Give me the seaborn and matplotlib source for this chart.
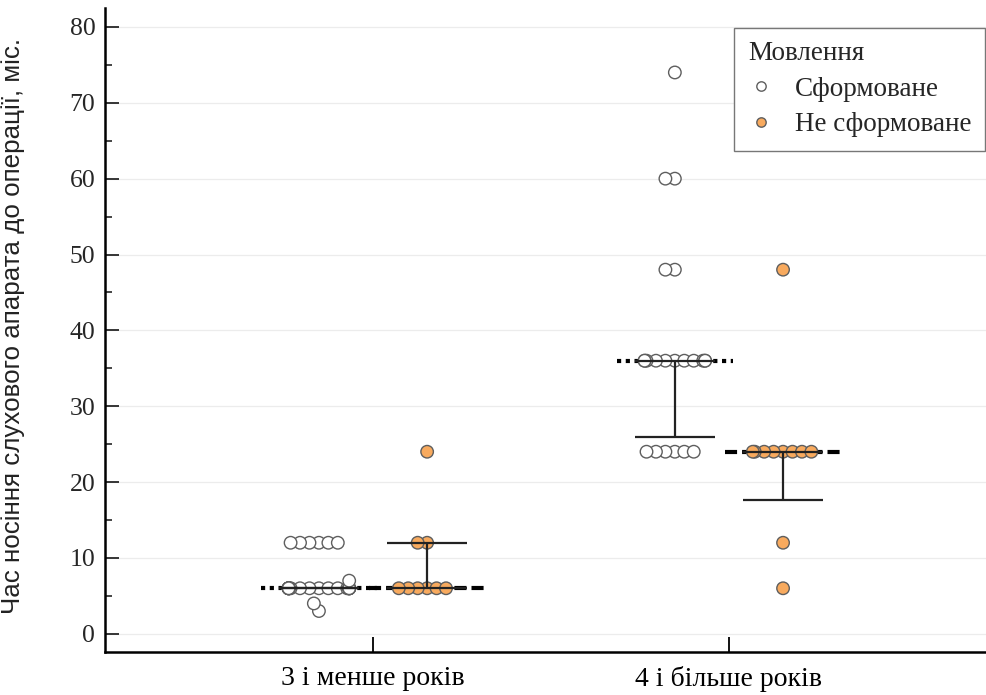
import warnings
import numpy as np
import pandas as pd
import matplotlib
matplotlib.use("Agg")
import matplotlib.pyplot as plt
import seaborn as sns
from seaborn.categorical import Beeswarm

warnings.filterwarnings("ignore")

# --- data (months of hearing aid use before surgery) ---
groups = ["3 і менше років", "4 і більше років"]
speech = ["Сформоване", "Не сформоване"]

young_formed = [3, 4, 6, 6, 6, 6, 6, 6, 6, 6, 6, 6, 6, 6, 6, 6, 6, 6, 6, 6, 6, 6,
                7, 12, 12, 12, 12, 12, 12]
young_not = [6, 6, 6, 6, 6, 6, 12, 12, 24]
old_formed = [24, 24, 24, 24, 24, 24, 36, 36, 36, 36, 36, 36, 36, 36, 36, 36, 36,
              48, 48, 60, 60, 74]
old_not = [6, 12, 24, 24, 24, 24, 24, 24, 24, 24, 48]

# median and interquartile range shown on the chart, [group][speech]
medians = [[6, 6], [36, 24]]
q1 = [[6, 6], [26, 17.7]]
q3 = [[6, 12], [36, 24]]

colors = {"Сформоване": "white", "Не сформоване": "#F8AA5E"}
offset = {"Сформоване": -0.152, "Не сформоване": 0.152}

rows = []
for g, s, vals in [(0, speech[0], young_formed), (0, speech[1], young_not),
                   (1, speech[0], old_formed), (1, speech[1], old_not)]:
    for v in vals:
        rows.append({"group": g, "Мовлення": s, "value": v})
df = pd.DataFrame(rows)
df["pos"] = df["group"] + df["Мовлення"].map(offset)

# --- plot ---
sns.set_theme(style="white")
plt.rcParams["font.family"] = ["Liberation Serif", "DejaVu Serif"]

fig = plt.figure(figsize=(9.87, 6.95), dpi=100)
ax = fig.add_axes([0.1064, 0.0619, 0.8936, 0.9266])

sns.stripplot(data=df, x="pos", y="value", hue="Мовлення", hue_order=speech,
              palette=colors, jitter=False, native_scale=True, size=9.0,
              linewidth=1.0, edgecolor="#5e5e5e", zorder=3, ax=ax)

ax.set_xlim(-0.753, 1.725)
ax.set_ylim(-2.4, 82.5)

# spread points sideways with seaborn's beeswarm (tight spacing, narrow band)
bw = Beeswarm(orient="x", width=0.17)
for pts in ax.collections:
    offs = pts.get_offsets()
    if len(offs) > 1:
        center = float(np.asarray(offs)[0, 0])
        draw_size = pts.get_sizes().copy()
        pts.set_sizes([30])
        bw(pts, center)
        pts.set_sizes(draw_size)

# median lines and IQR bars
line_style = {"Сформоване": (0, (1, 1.1)), "Не сформоване": (0, (2.9, 1.2))}
for i in range(len(groups)):
    for j, s in enumerate(speech):
        x = i + offset[s]
        ax.plot([x - 0.163, x + 0.163], [medians[i][j]] * 2, color="black",
                lw=3, linestyle=line_style[s], zorder=2, solid_capstyle="butt")
        ax.vlines(x, q1[i][j], q3[i][j], color="#222222", lw=1.6, zorder=4)
        ax.hlines([q1[i][j], q3[i][j]], x - 0.112, x + 0.112, color="#222222",
                  lw=1.6, zorder=4)

# axes styling
ax.set_xticks([0, 1], groups)
ax.set_yticks(np.arange(0, 81, 10))
ax.set_yticks(np.arange(5, 80, 10), minor=True)
ax.tick_params(axis="x", direction="in", length=11, width=1.3, labelsize=20,
               pad=10, colors="black", bottom=True)
ax.tick_params(axis="y", which="major", direction="in", length=10, width=1.3,
               labelsize=18.5, pad=7, left=True)
ax.tick_params(axis="y", which="minor", direction="in", length=5, width=1.2,
               left=True)
ax.yaxis.grid(True, which="major", color="#ececec", lw=0.9, zorder=0)
ax.set_axisbelow(True)
for side in ["top", "right"]:
    ax.spines[side].set_visible(False)
for side in ["left", "bottom"]:
    ax.spines[side].set_color("black")
    ax.spines[side].set_linewidth(1.8)

ax.set_xlabel("")
ax.set_ylabel("Час носіння слухового апарата до операції, міс.", fontsize=18.7,
              family=["Liberation Sans Narrow", "Liberation Sans", "DejaVu Sans"],
              color="#222222")
ax.yaxis.set_label_coords(-0.0907, 0.506)

sns.move_legend(ax, "upper right", bbox_to_anchor=(0.998, 0.969),
                borderaxespad=0, title="Мовлення", frameon=True, fancybox=False,
                edgecolor="#777777", framealpha=1, fontsize=19.5,
                title_fontsize=19.5, alignment="left", handletextpad=0.75,
                borderpad=0.5, labelspacing=0.38, markerscale=0.75,
                handlelength=1.0)
ax.get_legend().get_frame().set_linewidth(1.0)

fig.savefig("out.png", dpi=100)
